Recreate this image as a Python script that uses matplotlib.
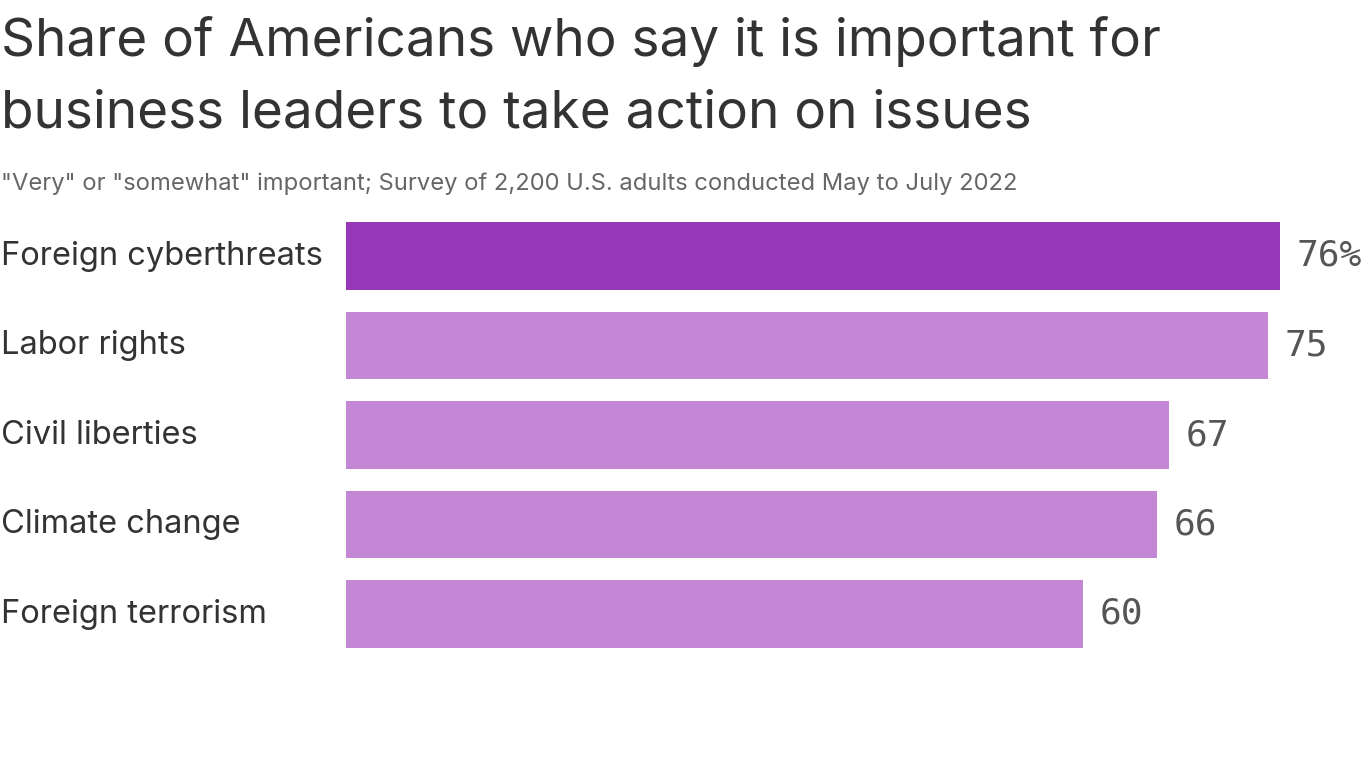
import matplotlib.pyplot as plt

categories = ["Foreign cyberthreats", "Labor rights", "Civil liberties",
              "Climate change", "Foreign terrorism"]
values = [76, 75, 67, 66, 60]
value_labels = ["76%", "75", "67", "66", "60"]

highlight = "#9637BA"
base = "#C387D6"
bar_colors = [highlight] + [base] * (len(values) - 1)

fig = plt.figure(figsize=(13.66, 7.68), dpi=100)
fig.patch.set_facecolor("white")

# axes start at the left edge of the bars, run to the right edge of the figure
ax = fig.add_axes([346 / 1366, 1 - 658.75 / 768, 1020 / 1366, 447.5 / 768])
ypos = list(range(len(categories)))
ax.barh(ypos, values, height=0.755, color=bar_colors)
ax.set_xlim(0, 1020 / (934 / 76))
ax.set_ylim(len(categories) - 0.5, -0.5)
ax.axis("off")

for y, v, lab in zip(ypos, values, value_labels):
    ax.annotate(lab, (v, y), xytext=(12, 0), textcoords="offset points",
                va="center", ha="left", fontsize=26, color="#555555",
                family="DejaVu Sans Mono")

for y, cat in zip(ypos, categories):
    ax.annotate(cat, (0, y), xytext=(-345 * 0.72, 0), textcoords="offset points",
                va="center", ha="left", fontsize=23.5, color="#333333",
                family="Inter")

fig.text(0.0005, 1 - 56 / 768, "Share of Americans who say it is important for",
         fontsize=38.2, color="#333333", family="Inter", va="baseline")
fig.text(0.0005, 1 - 127 / 768, "business leaders to take action on issues",
         fontsize=38.2, color="#333333", family="Inter", va="baseline")
fig.text(0.0005, 1 - 190 / 768,
         '"Very" or "somewhat" important; Survey of 2,200 U.S. adults conducted May to July 2022',
         fontsize=17.1, color="#666666", family="Inter", va="baseline")

fig.savefig("out.png", dpi=100)
